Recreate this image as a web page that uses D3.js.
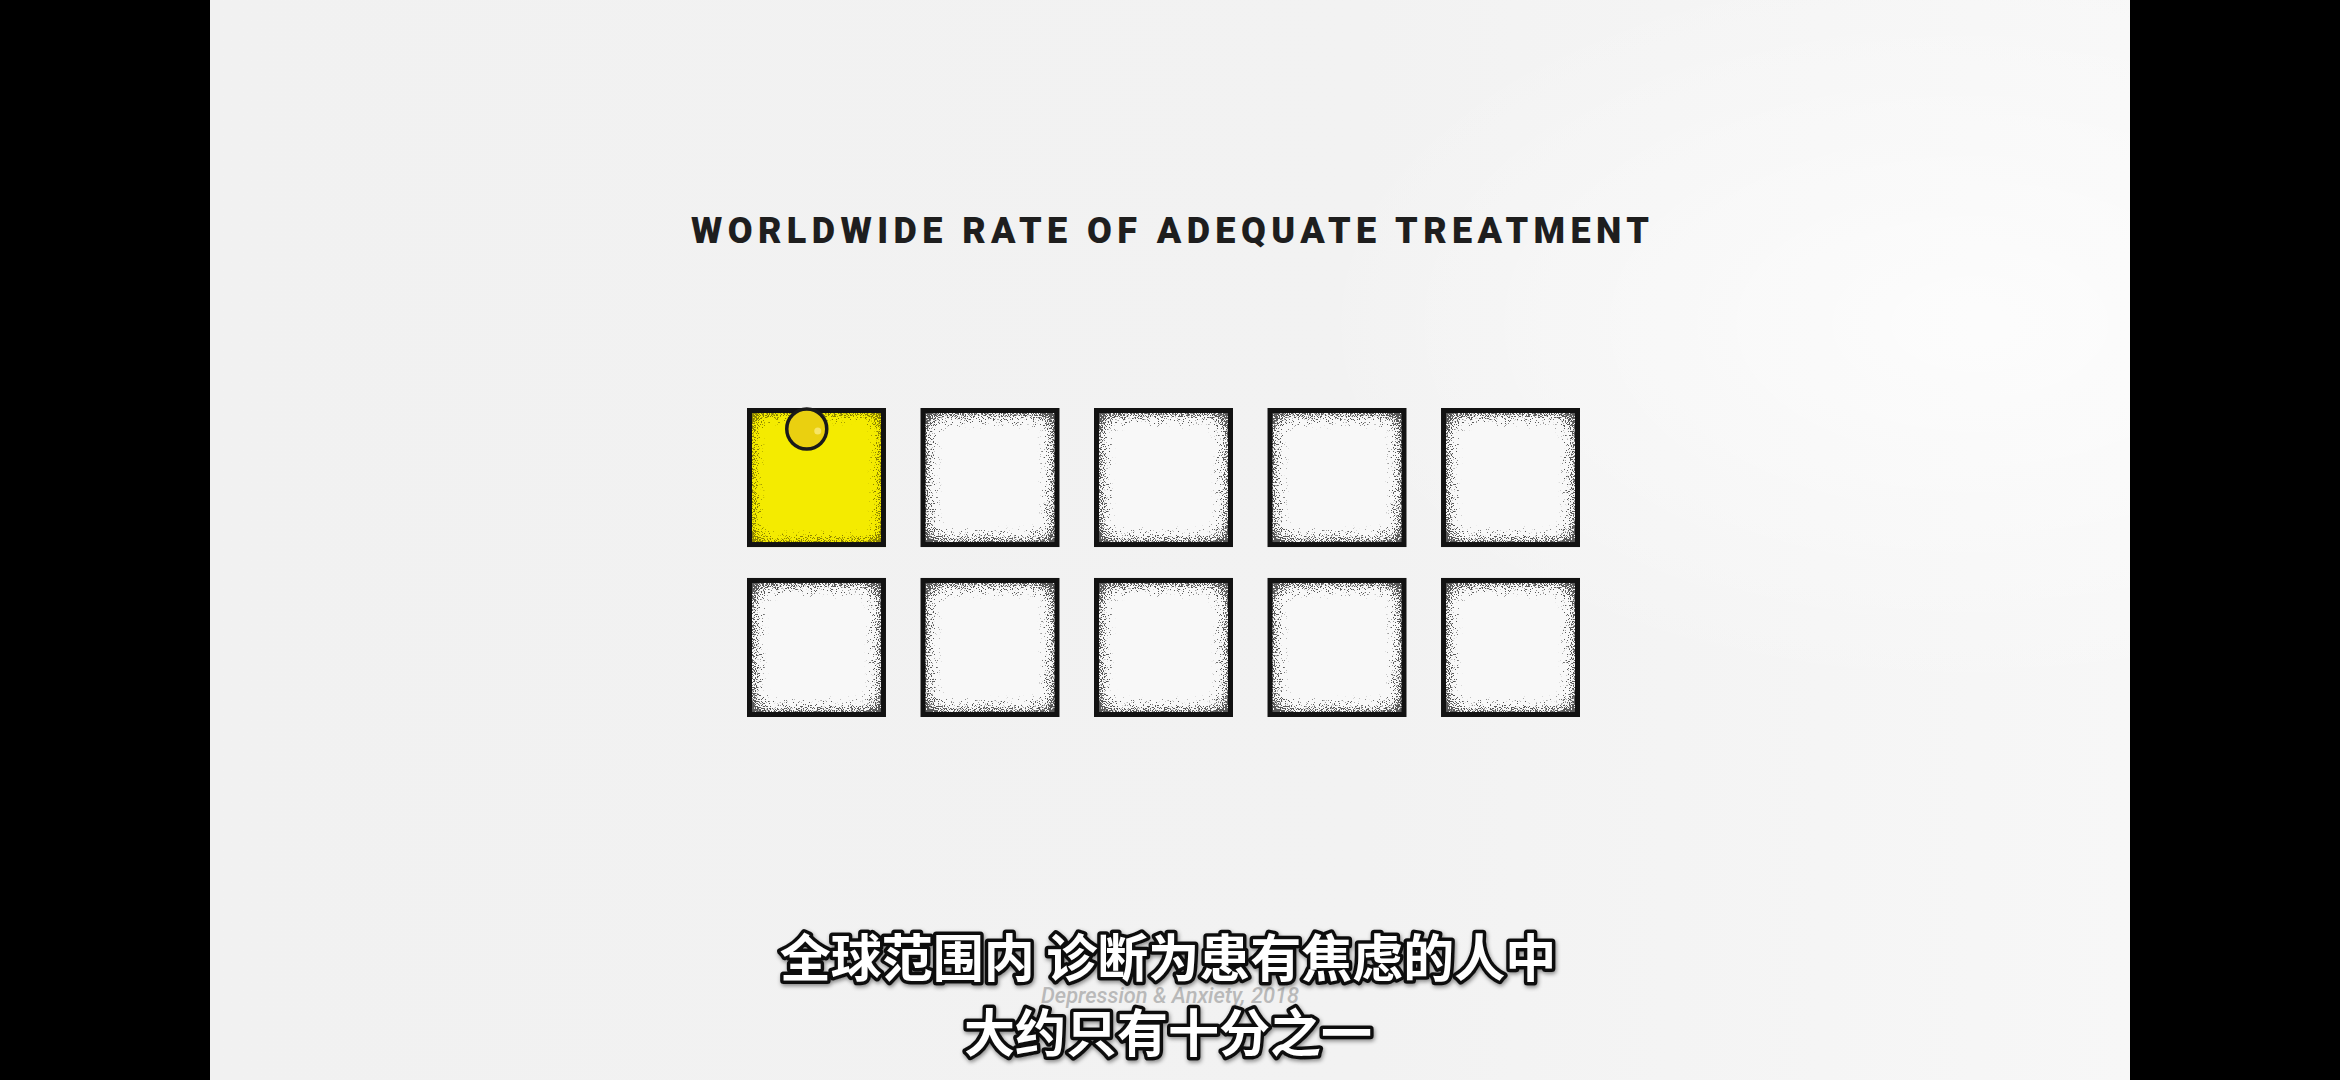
<!DOCTYPE html>
<html>
<head>
<meta charset="utf-8">
<script src="https://cdn.jsdelivr.net/npm/d3@7"></script>
<style>
  html, body { margin: 0; padding: 0; background: #000; }
  svg { display: block; }
</style>
</head>
<body>
<script>
// ---- data ----
const title = "WORLDWIDE RATE OF ADEQUATE TREATMENT";
const cellValues = [1, 0, 0, 0, 0, 0, 0, 0, 0, 0];   // 1 = adequately treated (1 in 10)
const columns = [0, 1, 2, 3, 4];
const rows = [0, 1];
const subtitleLines = ["全球范围内 诊断为患有焦虑的人中", "大约只有十分之一"];
const source = "Depression & Anxiety, 2018";

const W = 2340, H = 1080;
const svg = d3.select("body").append("svg").attr("width", W).attr("height", H);
const defs = svg.append("defs");

// background gradient
const bg = defs.append("linearGradient").attr("id", "bg").attr("x1", 0).attr("x2", 1).attr("y1", 0).attr("y2", 0);
bg.append("stop").attr("offset", "0%").attr("stop-color", "#f1f1f1");
bg.append("stop").attr("offset", "60%").attr("stop-color", "#f2f2f2");
bg.append("stop").attr("offset", "100%").attr("stop-color", "#f7f7f7");
const glow = defs.append("radialGradient").attr("id", "glow").attr("cx", 0.92).attr("cy", 0.3).attr("r", 0.35);
glow.append("stop").attr("offset", "0%").attr("stop-color", "#ffffff").attr("stop-opacity", 0.7);
glow.append("stop").attr("offset", "100%").attr("stop-color", "#ffffff").attr("stop-opacity", 0);

// grain filter: dots dense along inner edges, fading toward the centre
// alpha = K * ( s*(1 - blur) - noise - b )
function grainFilter(id, color, opacity, reach, s, b) {
  const K = 7;
  const f = defs.append("filter").attr("id", id)
    .attr("filterUnits", "userSpaceOnUse")
    .attr("x", -20).attr("y", -20).attr("width", 180).attr("height", 180)
    .attr("color-interpolation-filters", "sRGB");
  f.append("feTurbulence").attr("type", "fractalNoise").attr("baseFrequency", 0.85).attr("numOctaves", 2).attr("seed", 7).attr("result", "noise");
  f.append("feColorMatrix").attr("in", "noise").attr("type", "matrix")
    .attr("values", "0 0 0 0 0  0 0 0 0 0  0 0 0 0 0  2.2 0 0 0 -0.6").attr("result", "na");
  f.append("feGaussianBlur").attr("in", "SourceAlpha").attr("stdDeviation", reach).attr("result", "blur");
  f.append("feComposite").attr("in", "blur").attr("in2", "na").attr("operator", "arithmetic")
    .attr("k1", 0).attr("k2", -K * s).attr("k3", -K).attr("k4", K * (s - b)).attr("result", "dots");
  f.append("feFlood").attr("flood-color", color).attr("flood-opacity", opacity);
  f.append("feComposite").attr("in2", "dots").attr("operator", "in").attr("result", "col");
  f.append("feComposite").attr("in", "col").attr("in2", "SourceAlpha").attr("operator", "in");
}
grainFilter("grain", "#1a1a1a", 0.72, 12, 1.6, 0.08);
grainFilter("grainY", "#5e5600", 0.7, 10, 1.6, 0.08);

const shadow = defs.append("filter").attr("id", "txtshadow").attr("x", -0.1).attr("y", -0.3).attr("width", 1.2).attr("height", 1.6);
shadow.append("feDropShadow").attr("dx", 1).attr("dy", 2).attr("stdDeviation", 2).attr("flood-color", "#000").attr("flood-opacity", 0.45);

// panel
svg.append("rect").attr("x", 210).attr("y", 0).attr("width", 1920).attr("height", H).attr("fill", "url(#bg)");
svg.append("rect").attr("x", 210).attr("y", 0).attr("width", 1920).attr("height", H).attr("fill", "url(#glow)");

// title
svg.append("text")
  .attr("x", 1170).attr("y", 243)
  .attr("text-anchor", "middle")
  .attr("font-family", "Roboto, 'Liberation Sans', sans-serif")
  .attr("font-weight", 900)
  .attr("font-size", 36)
  .attr("textLength", 958).attr("lengthAdjust", "spacing")
  .attr("fill", "#1e1e1e")
  .text(title);

// scales
const x = d3.scaleBand().domain(columns).range([747, 1580]).paddingInner(0.199).paddingOuter(0);
const y = d3.scaleBand().domain(rows).range([408, 717]).paddingInner(0.182).paddingOuter(0);
const cells = cellValues.map((v, i) => ({ v, col: columns[i % columns.length], row: rows[Math.floor(i / columns.length)] }));

const g = svg.append("g");
const cell = g.selectAll("g.cell").data(cells).join("g").attr("class", "cell")
  .attr("transform", d => `translate(${x(d.col)},${y(d.row)})`);
const bw = x.bandwidth(), bh = y.bandwidth();

cell.append("rect").attr("width", bw).attr("height", bh)
  .attr("fill", d => d.v ? "#f4eb00" : "#f8f8f8");
cell.append("rect").attr("x", 3).attr("y", 3).attr("width", bw - 6).attr("height", bh - 6)
  .attr("fill", "#fff")
  .attr("filter", d => d.v ? "url(#grainY)" : "url(#grain)");
cell.append("rect").attr("x", 2.5).attr("y", 2.5).attr("width", bw - 5).attr("height", bh - 5)
  .attr("fill", "none").attr("stroke", "#121212").attr("stroke-width", 5);

// circle (marker on treated cell)
const treated = cell.filter(d => d.v === 1);
treated.append("circle").attr("cx", bw * 0.43).attr("cy", 21).attr("r", 20)
  .attr("fill", "#ead010").attr("stroke", "#1a1a1a").attr("stroke-width", 3.5);
treated.append("circle").attr("cx", bw * 0.43 + 11).attr("cy", 23).attr("r", 3.5)
  .attr("fill", "#fff3a0").attr("opacity", 0.6);

// source note
svg.append("text")
  .attr("x", 1170).attr("y", 1003)
  .attr("text-anchor", "middle")
  .attr("font-family", "Roboto, 'Liberation Sans', sans-serif")
  .attr("font-style", "italic")
  .attr("font-weight", 500)
  .attr("font-size", 22)
  .attr("textLength", 258).attr("lengthAdjust", "spacingAndGlyphs")
  .attr("fill", "#b9b9b9")
  .text(source);

// subtitles
const subY = [977, 1052];
svg.selectAll("text.sub").data(subtitleLines).join("text").attr("class", "sub")
  .attr("x", 1168).attr("y", (d, i) => subY[i])
  .attr("text-anchor", "middle")
  .attr("font-family", "'Noto Sans CJK SC', sans-serif")
  .attr("font-weight", 700)
  .attr("font-size", 51)
  .attr("fill", "#fff")
  .attr("stroke", "#111").attr("stroke-width", 7).attr("stroke-linejoin", "round")
  .attr("paint-order", "stroke")
  .attr("filter", "url(#txtshadow)")
  .text(d => d);
</script>
</body>
</html>
